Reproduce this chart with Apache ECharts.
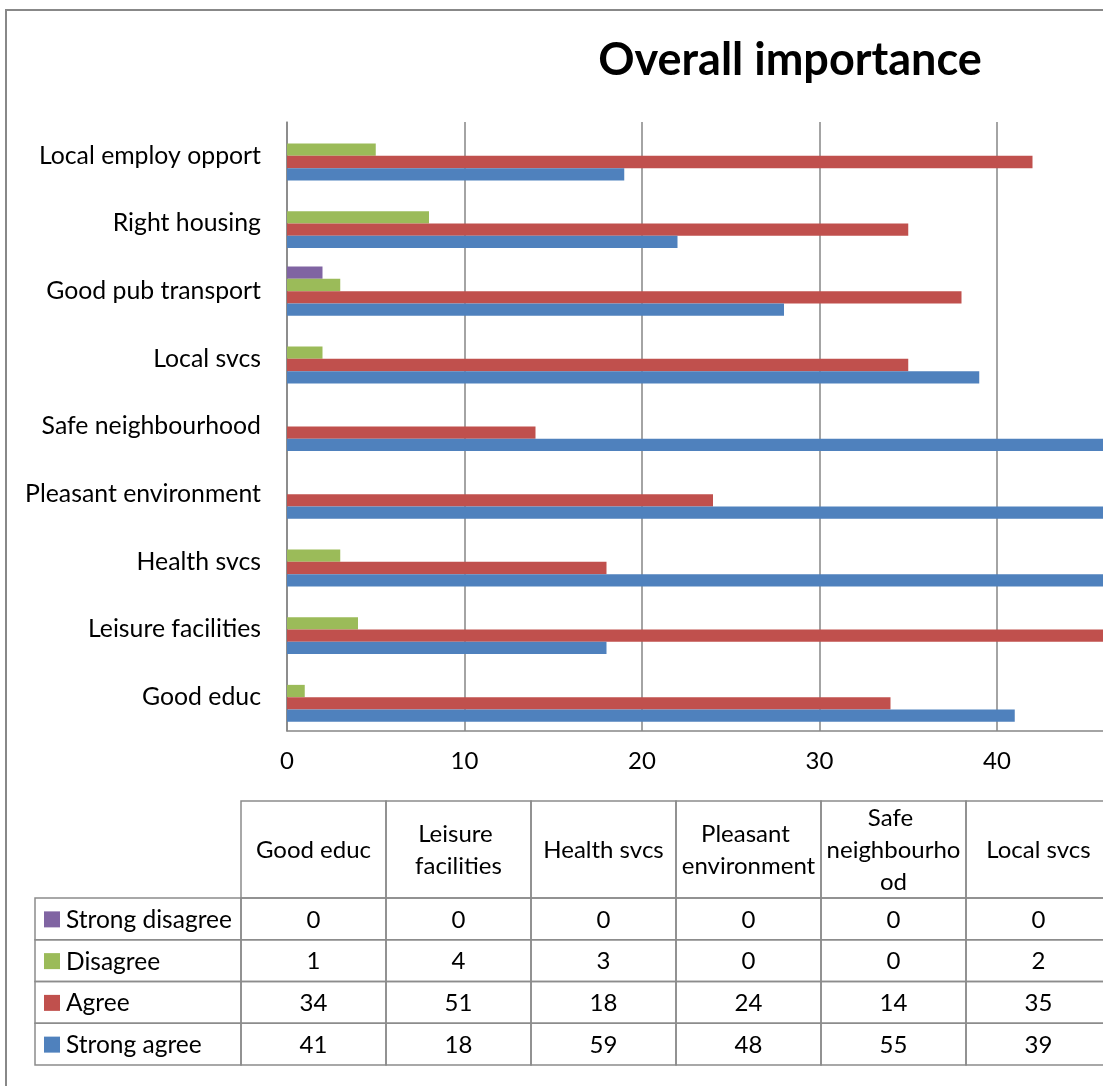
<!DOCTYPE html>
<html>
<head>
<meta charset="utf-8">
<script src="https://cdn.jsdelivr.net/npm/echarts@6/dist/echarts.min.js"></script>
<style>
html,body{margin:0;padding:0;overflow:hidden;background:#fff;width:1103px;height:1086px;}
#chart{width:1580px;height:1110px;}
</style>
</head>
<body>
<div id="chart"></div>
<script>
const categories = ['Good educ','Leisure facilities','Health svcs','Pleasant environment','Safe neighbourhood','Local svcs','Good pub transport','Right housing','Local employ opport'];
const seriesNames = ['Strong agree','Agree','Disagree','Strong disagree'];
const strongAgree = [41,18,59,48,55,39,28,22,19];
const agree = [34,51,18,24,14,35,38,35,42];
const disagree = [1,4,3,0,0,2,3,8,5];
const strongDisagree = [0,0,0,0,0,0,2,0,0];
const colors = ['#4F81BD','#C0504D','#9BBB59','#8064A2'];
const xMin = 0, xMax = 70, xInterval = 10;

const seriesValues = [strongAgree, agree, disagree, strongDisagree];
const FONT = 'Lato';
const LINE = '#8c8c8c';
const FS = 24;

const tableData = [];
categories.forEach((c, i) => {
  seriesValues.forEach((vals, j) => { tableData.push([i, j, vals[i]]); });
});
const headerData = categories.map((c, i) => [i, 0, c]);

const chart = echarts.init(document.getElementById('chart'), null, {renderer:'canvas'});

// ECharts stacks bars of a horizontal group from top to bottom in series order,
// so the series are added in reverse (Strong disagree on top, Strong agree at bottom).
const barSeries = [3, 2, 1, 0].map(j => ({
  name: seriesNames[j],
  type: 'bar',
  xAxisIndex: 0, yAxisIndex: 0,
  data: seriesValues[j],
  itemStyle: {color: colors[j]},
  barGap: '0%',
  barCategoryGap: '27.3%',
  animation: false
}));

const option = {
  animation: false,
  textStyle: {fontFamily: FONT},
  title: {
    text: 'Overall importance',
    left: 'center',
    top: 33,
    textStyle: {fontFamily: FONT, fontSize: 45, fontWeight: 'bold', color: '#000'}
  },
  graphic: [{
    type: 'rect',
    shape: {x: 6, y: 10, width: 1560, height: 1095},
    style: {fill: 'none', stroke: '#888', lineWidth: 2},
    silent: true
  }],
  grid: [
    {left: 287, top: 122, width: 1242.5, height: 609},
    {left: 241, top: 898, width: 1305, height: 167},
    {left: 241, top: 801, width: 1305, height: 97}
  ],
  xAxis: [
    {type: 'value', gridIndex: 0, min: xMin, max: xMax, interval: xInterval,
     axisLine: {show: true, lineStyle: {color: '#868686', width: 1.5}},
     axisTick: {show: false},
     splitLine: {show: true, lineStyle: {color: '#868686', width: 1.5}},
     axisLabel: {fontFamily: FONT, fontSize: FS, color: '#000', margin: 18}},
    {type: 'category', gridIndex: 1, data: categories, show: false},
    {type: 'category', gridIndex: 2, data: categories, show: false}
  ],
  yAxis: [
    {type: 'category', gridIndex: 0, data: categories,
     axisLine: {show: true, lineStyle: {color: '#868686', width: 1.5}},
     axisTick: {show: false},
     axisLabel: {fontFamily: FONT, fontSize: 24.8, color: '#000', margin: 26}},
    {type: 'category', gridIndex: 1, data: seriesNames, show: false},
    {type: 'category', gridIndex: 2, data: ['header'], show: false}
  ],
  series: barSeries.concat([
    {
      type: 'custom',
      xAxisIndex: 1, yAxisIndex: 1,
      data: tableData,
      encode: {x: 0, y: 1},
      renderItem: function (params, api) {
        const i = api.value(0), j = api.value(1), v = api.value(2);
        const c = api.coord([i, j]);
        const s = api.size([1, 1]);
        const w = s[0], h = s[1];
        const x0 = c[0] - w / 2, y0 = c[1] - h / 2;
        const children = [
          {type: 'rect', shape: {x: x0, y: y0, width: w, height: h},
           style: {fill: 'none', stroke: LINE, lineWidth: 1.5}},
          {type: 'text', style: {text: String(v), x: c[0], y: c[1] + 1, align: 'center', verticalAlign: 'middle',
            font: FS + 'px ' + FONT, fill: '#000'}}
        ];
        if (i === 0) {
          const hw = 206;
          children.push(
            {type: 'rect', shape: {x: x0 - hw, y: y0, width: hw, height: h},
             style: {fill: 'none', stroke: LINE, lineWidth: 1.5}},
            {type: 'rect', shape: {x: x0 - hw + 9, y: c[1] - 7.5, width: 16, height: 16},
             style: {fill: colors[j]}},
            {type: 'text', style: {text: seriesNames[j], x: x0 - hw + 31, y: c[1] + 1, align: 'left', verticalAlign: 'middle',
              font: '24.5px ' + FONT, fill: '#000'}}
          );
        }
        return {type: 'group', children: children};
      }
    },
    {
      type: 'custom',
      xAxisIndex: 2, yAxisIndex: 2,
      data: headerData,
      encode: {x: 0, y: 1},
      renderItem: function (params, api) {
        const i = api.value(0);
        const c = api.coord([i, 0]);
        const s = api.size([1, 1]);
        const w = s[0], h = s[1];
        return {type: 'group', children: [
          {type: 'rect', shape: {x: c[0] - w / 2, y: c[1] - h / 2, width: w, height: h},
           style: {fill: 'none', stroke: LINE, lineWidth: 1.5}},
          {type: 'text', style: {text: categories[i], x: c[0], y: c[1] + 1, width: w - 4, overflow: 'break',
            align: 'center', verticalAlign: 'middle', font: FS + 'px ' + FONT, lineHeight: 32, fill: '#000'}}
        ]};
      }
    }
  ])
};
chart.setOption(option);
</script>
</body>
</html>
